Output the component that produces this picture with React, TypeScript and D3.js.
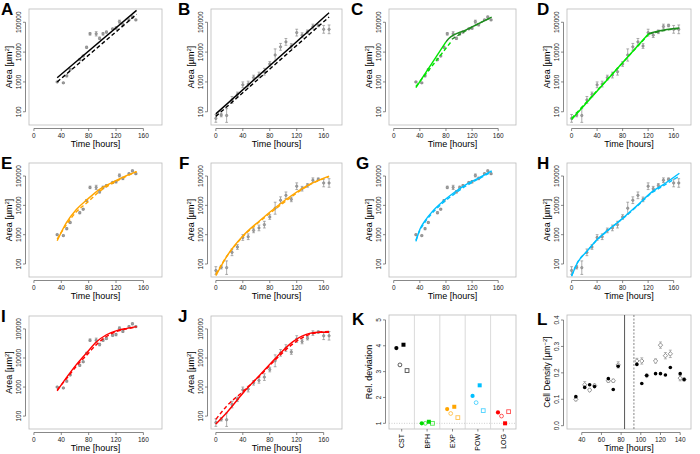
import * as d3 from "d3";

const FONT = "'Liberation Sans', Arial, Helvetica, sans-serif";

type Pt = [number, number];

// short series (panels A, C, E, G, I)
const shortTime = [34, 43, 48, 53, 67, 72, 77, 82, 91, 96, 101, 106, 115, 120, 125, 130, 139, 144, 149];
const shortArea = [1000, 930, 1600, 2600, 5600, 7400, 14500, 41000, 41000, 29000, 41000, 47000, 60000, 64000, 105000, 83000, 120000, 150000, 120000];
const shortErr = [0.05, 0.05, 0.08, 0.06, 0.08, 0.06, 0.08, 0.1, 0.18, 0.1, 0.1, 0.08, 0.06, 0.1, 0.12, 0.1, 0.06, 0.08, 0.06];

// long series (panels B, D, F, H, J)
const longTime = [0, 8, 16, 24, 32, 40, 48, 56, 64, 72, 80, 88, 96, 104, 112, 120, 128, 136, 144, 152, 160, 168];
const longArea = [60, 78, 75, 250, 380, 800, 850, 1400, 1700, 2200, 4000, 8000, 15000, 22000, 16000, 45000, 37000, 48000, 72000, 78000, 58000, 58000];
const longErr = [0.35, 0.15, 0.7, 0.3, 0.2, 0.25, 0.25, 0.2, 0.25, 0.3, 0.2, 0.6, 0.3, 0.3, 0.2, 0.3, 0.2, 0.15, 0.2, 0.1, 0.35, 0.4];

const timeTicks = [0, 40, 80, 120, 160];
const areaTicks = [100, 1000, 10000, 100000];

// fitted curves: [time, area]
const cstShortSolid: Pt[] = [[34, 1380], [150, 250000]];
const cstShortDash: Pt[] = [[34, 1000], [150, 185000]];
const cstLongSolid: Pt[] = [[0, 85], [168, 210000]];
const cstLongDash: Pt[] = [[0, 70], [168, 150000]];

const bphShortSolid1: Pt[] = [[34, 650], [80, 22000]];
const bphShortSolid2: Pt[] = [[80, 22000], [84, 28000], [110, 55000], [150, 150000]];
const bphShortDash1: Pt[] = [[34, 700], [89, 24000]];
const bphShortDash2: Pt[] = [[89, 27000], [115, 60000], [150, 145000]];
const bphLongSolid1: Pt[] = [[0, 55], [121, 42000]];
const bphLongSolid2: Pt[] = [[121, 42000], [145, 55000], [169, 64000]];
const bphLongDash1: Pt[] = [[0, 60], [121, 40000]];
const bphLongDash2: Pt[] = [[121, 40000], [145, 53000], [169, 62000]];

const expShortSolid: Pt[] = [[34, 620], [47.5, 2560], [62, 7200], [78, 16000], [96.5, 36000], [116, 63000], [136, 105000], [150, 143000]];
const expShortDash: Pt[] = [[34, 700], [48, 2300], [62, 6000], [78, 12500], [96, 30000], [116, 58000], [136, 100000], [150, 140000]];
const expLongSolid: Pt[] = [[0, 40], [16, 180], [40, 900], [65, 3000], [90, 9000], [114, 23000], [139, 52000], [168, 100000]];
const expLongDash: Pt[] = [[0, 45], [16, 180], [40, 850], [65, 2800], [90, 8000], [114, 21000], [139, 50000], [168, 95000]];

const powShortSolid: Pt[] = [[34, 590], [40, 1500], [48, 3000], [60, 6500], [75, 13500], [90, 25000], [110, 50000], [130, 85000], [150, 150000]];
const powShortDash: Pt[] = [[34, 650], [40, 1400], [48, 2700], [60, 5800], [75, 12000], [90, 22000], [110, 45000], [130, 80000], [150, 140000]];
const powLongSolid: Pt[] = [[0, 38], [9, 108], [24, 270], [40, 680], [58, 1500], [80, 3600], [103, 10000], [127, 30000], [142, 48000], [169, 124000]];
const powLongDash: Pt[] = [[0, 40], [9, 110], [24, 270], [40, 660], [58, 1450], [80, 3500], [103, 9500], [127, 28000], [142, 44000], [169, 100000]];

const logShortSolid: Pt[] = [[34, 740], [47.5, 2100], [62, 5900], [77, 15000], [91.6, 36000], [106, 63000], [121, 88000], [136, 105000], [150, 120000]];
const logShortDash: Pt[] = [[34, 800], [48, 2000], [62, 5200], [77, 12500], [92, 30000], [106, 55000], [121, 82000], [136, 100000], [150, 118000]];
const logLongSolid: Pt[] = [[0, 53], [16, 130], [40.7, 640], [65, 2550], [90, 10700], [114, 36000], [139, 70000], [155, 77000], [168, 77000]];
const logLongDash: Pt[] = [[0, 77], [16, 220], [40, 700], [65, 2400], [90, 9500], [114, 30000], [139, 65000], [155, 78000], [168, 82000]];

// panel K
const models = ["CST", "BPH", "EXP", "POW", "LOG"];
const modelColors = ["#000000", "#00dd00", "#ffa500", "#00bfff", "#ff0000"];
const devShortFit = [3.91, 1.0, 1.55, 2.06, 1.42];
const devShortPred = [3.26, 1.0, 1.38, 1.8, 1.28];
const devLongFit = [4.04, 1.06, 1.64, 2.47, 1.0];
const devLongPred = [3.04, 1.0, 1.22, 1.49, 1.45];
const devTicks = [1, 2, 3, 4, 5];

// panel L
const densTime = [34, 43, 48, 53, 67, 72, 77, 96, 101, 106, 115, 120, 125, 130, 140, 144];
const densBlack = [0.11, 0.145, 0.155, 0.148, 0.178, 0.137, 0.225, 0.232, 0.16, 0.19, 0.197, 0.197, 0.192, 0.22, 0.197, 0.175];
const densGray = [0.10, 0.155, 0.135, 0.152, 0.17, 0.17, 0.23, 0.245, 0.245, 0.19, 0.245, 0.305, 0.265, 0.272, 0.18, 0.175];
const densGrayErr = [0.006, 0.012, 0.006, 0.006, 0.006, 0.006, 0.012, 0.01, 0.012, 0.006, 0.008, 0.012, 0.012, 0.014, 0.01, 0.006];
const densTimeTicks = [40, 60, 80, 100, 120, 140];
const densTicks = [0, 0.1, 0.2, 0.3, 0.4];

const GREEN = "#00e600";
const DKGREEN = "#1e8c1e";
const ORANGE = "#ffa500";
const BLUE = "#00bfff";
const RED = "#ff0000";

const colX = [[29, 162], [211, 342], [389, 516], [567, 691]];
const rowY = [[9, 125], [163, 277], [316, 429]];

type Fit = { pts: Pt[]; color: string; dash?: boolean };

const AXIS = "#555";
const BOX = "#bbbbbb";

function Letter({ x, y, t }: { x: number; y: number; t: string }) {
  return (
    <text x={x} y={y} fontFamily={FONT} fontWeight="bold" fontSize={17}>
      {t}
    </text>
  );
}

function GrowthPanel({ col, row, letter, lx, times, areas, errs, fits }: {
  col: number; row: number; letter: string; lx: number;
  times: number[]; areas: number[]; errs: number[]; fits: Fit[];
}) {
  const [x0, x1] = colX[col];
  const [y0, y1] = rowY[row];
  const x = d3.scaleLinear().domain([-7.2, 187.2]).range([x0, x1]);
  const y = d3.scaleLog().domain([36, 278600]).range([y1, y0]);
  const line = d3.line<Pt>().x((d) => x(d[0])).y((d) => y(d[1])).curve(d3.curveMonotoneX);
  const clipId = `clip-${letter}`;
  const ax = y1 + 3.5;
  const ay = x0 - 3.5;
  return (
    <g fontFamily={FONT}>
      <Letter x={lx} y={y0 + 6} t={letter} />
      <clipPath id={clipId}>
        <rect x={x0} y={y0} width={x1 - x0} height={y1 - y0} />
      </clipPath>
      <rect x={x0} y={y0} width={x1 - x0} height={y1 - y0} fill="none" stroke={BOX} strokeWidth={0.8} />
      {/* x axis */}
      <line x1={x(0)} x2={x(160)} y1={ax} y2={ax} stroke={AXIS} strokeWidth={0.7} />
      {timeTicks.map((t) => (
        <g key={t}>
          <line x1={x(t)} x2={x(t)} y1={ax} y2={ax + 2.5} stroke={AXIS} strokeWidth={0.7} />
          <text x={x(t)} y={ax + 9.5} fontSize={6.5} textAnchor="middle" fill="#222">{t}</text>
        </g>
      ))}
      <text x={(x0 + x1) / 2} y={y1 + 21.5} fontSize={9} textAnchor="middle">Time [hours]</text>
      {/* y axis */}
      <line x1={ay} x2={ay} y1={y(100)} y2={y(100000)} stroke={AXIS} strokeWidth={0.7} />
      {areaTicks.map((v) => (
        <g key={v}>
          <line x1={ay} x2={ay - 2.5} y1={y(v)} y2={y(v)} stroke={AXIS} strokeWidth={0.7} />
          <text transform={`translate(${ay - 4.5},${y(v)}) rotate(-90)`} fontSize={6.5} textAnchor="middle" fill="#222">{v}</text>
        </g>
      ))}
      <text transform={`translate(${x0 - 17},${(y0 + y1) / 2}) rotate(-90)`} fontSize={9} textAnchor="middle">
        Area [µm<tspan dy={-3.5} fontSize={6}>2</tspan><tspan dy={3.5}>]</tspan>
      </text>
      {/* data */}
      <g clipPath={`url(#${clipId})`}>
        {times.map((t, i) => {
          const lo = areas[i] / (1 + errs[i]);
          const hi = areas[i] * (1 + errs[i]);
          return (
            <g key={i} stroke="#8a8a8a" strokeWidth={0.7}>
              <line x1={x(t)} x2={x(t)} y1={y(lo)} y2={y(hi)} />
              <line x1={x(t) - 1.4} x2={x(t) + 1.4} y1={y(lo)} y2={y(lo)} />
              <line x1={x(t) - 1.4} x2={x(t) + 1.4} y1={y(hi)} y2={y(hi)} />
              <circle cx={x(t)} cy={y(areas[i])} r={1.2} fill="#a0a0a0" stroke="#808080" strokeWidth={0.6} />
            </g>
          );
        })}
        {fits.map((f, i) => (
          <path key={i} d={line(f.pts) ?? ""} fill="none" stroke={f.color} strokeWidth={1.4}
            strokeDasharray={f.dash ? "4,2.5" : undefined} />
        ))}
      </g>
    </g>
  );
}

function DeviationPanel() {
  const [x0, x1] = colX[2];
  const [y0, y1] = [315, 429];
  const x = d3.scaleLinear().domain([0.5, 5.5]).range([x0, x1]);
  const y = d3.scaleLinear().domain([0.78, 5.19]).range([y1, y0]);
  const ay = x0 - 3.5;
  const offs = [-0.21, -0.07, 0.07, 0.21];
  return (
    <g fontFamily={FONT}>
      <Letter x={352} y={325} t="K" />
      <rect x={x0} y={y0} width={x1 - x0} height={y1 - y0} fill="none" stroke={BOX} strokeWidth={0.8} />
      {[1.5, 2.5, 3.5, 4.5].map((s) => (
        <line key={s} x1={x(s)} x2={x(s)} y1={y0} y2={y1} stroke="#d0d0d0" strokeWidth={0.8} />
      ))}
      <line x1={x0} x2={x1} y1={y(1)} y2={y(1)} stroke="#bbb" strokeWidth={0.7} strokeDasharray="1,1.5" />
      <line x1={ay} x2={ay} y1={y(1)} y2={y(5)} stroke={AXIS} strokeWidth={0.7} />
      {devTicks.map((v) => (
        <g key={v}>
          <line x1={ay} x2={ay - 2.5} y1={y(v)} y2={y(v)} stroke={AXIS} strokeWidth={0.7} />
          <text transform={`translate(${ay - 4.5},${y(v)}) rotate(-90)`} fontSize={6.5} textAnchor="middle" fill="#222">{v}</text>
        </g>
      ))}
      <text transform={`translate(${x0 - 17},${(y0 + y1) / 2}) rotate(-90)`} fontSize={9} textAnchor="middle">Rel. deviation</text>
      {models.map((m, i) => (
        <g key={m}>
          <line x1={x(i + 1)} x2={x(i + 1)} y1={y1 + 0} y2={y1 + 2.5} stroke={AXIS} strokeWidth={0.7} />
          <text transform={`translate(${x(i + 1) + 2.5},${y1 + 5}) rotate(-90)`} fontSize={7} textAnchor="end">{m}</text>
          <circle cx={x(i + 1 + offs[0])} cy={y(devShortFit[i])} r={2.1} fill={modelColors[i]} />
          <circle cx={x(i + 1 + offs[1])} cy={y(devShortPred[i])} r={1.9} fill="none" stroke={modelColors[i]} strokeOpacity={0.7} strokeWidth={0.9} />
          <rect x={x(i + 1 + offs[2]) - 2} y={y(devLongFit[i]) - 2} width={4} height={4} fill={modelColors[i]} />
          <rect x={x(i + 1 + offs[3]) - 1.9} y={y(devLongPred[i]) - 1.9} width={3.8} height={3.8} fill="none" stroke={modelColors[i]} strokeOpacity={0.7} strokeWidth={0.9} />
        </g>
      ))}
    </g>
  );
}

function DensityPanel() {
  const [x0, x1] = colX[3];
  const [y0, y1] = [315, 429];
  const x = d3.scaleLinear().domain([25, 151]).range([x0, x1]);
  const y = d3.scaleLinear().domain([-0.0125, 0.419]).range([y1, y0]);
  const ax = y1 + 3.5;
  const ay = x0 - 3.5;
  return (
    <g fontFamily={FONT}>
      <Letter x={537} y={325} t="L" />
      <rect x={x0} y={y0} width={x1 - x0} height={y1 - y0} fill="none" stroke={BOX} strokeWidth={0.8} />
      <line x1={x(83.5)} x2={x(83.5)} y1={y0} y2={y1} stroke="#444" strokeWidth={0.9} />
      <line x1={x(93)} x2={x(93)} y1={y0} y2={y1} stroke="#777" strokeWidth={0.9} strokeDasharray="2,1.5" />
      <line x1={x(40)} x2={x(140)} y1={ax} y2={ax} stroke={AXIS} strokeWidth={0.7} />
      {densTimeTicks.map((t) => (
        <g key={t}>
          <line x1={x(t)} x2={x(t)} y1={ax} y2={ax + 2.5} stroke={AXIS} strokeWidth={0.7} />
          <text x={x(t)} y={ax + 9.5} fontSize={6.5} textAnchor="middle" fill="#222">{t}</text>
        </g>
      ))}
      <text x={(x0 + x1) / 2} y={y1 + 21.5} fontSize={9} textAnchor="middle">Time [hours]</text>
      <line x1={ay} x2={ay} y1={y(0)} y2={y(0.4)} stroke={AXIS} strokeWidth={0.7} />
      {densTicks.map((v) => (
        <g key={v}>
          <line x1={ay} x2={ay - 2.5} y1={y(v)} y2={y(v)} stroke={AXIS} strokeWidth={0.7} />
          <text transform={`translate(${ay - 4.5},${y(v)}) rotate(-90)`} fontSize={6.5} textAnchor="middle" fill="#222">{v.toFixed(1)}</text>
        </g>
      ))}
      <text transform={`translate(${x0 - 17},${(y0 + y1) / 2}) rotate(-90)`} fontSize={8.5} textAnchor="middle">
        Cell Density [µm<tspan dy={-3.5} fontSize={6}>−2</tspan><tspan dy={3.5}>]</tspan>
      </text>
      {densTime.map((t, i) => (
        <g key={i}>
          <g stroke="#999" strokeWidth={0.7}>
            <line x1={x(t)} x2={x(t)} y1={y(densGray[i] - densGrayErr[i])} y2={y(densGray[i] + densGrayErr[i])} />
            <line x1={x(t) - 1.5} x2={x(t) + 1.5} y1={y(densGray[i] - densGrayErr[i])} y2={y(densGray[i] - densGrayErr[i])} />
            <line x1={x(t) - 1.5} x2={x(t) + 1.5} y1={y(densGray[i] + densGrayErr[i])} y2={y(densGray[i] + densGrayErr[i])} />
          </g>
          <path d={`M${x(t)},${y(densGray[i]) - 2.2}l2.2,2.2l-2.2,2.2l-2.2,-2.2z`} fill="#fff" stroke="#888" strokeWidth={0.9} />
          <circle cx={x(t)} cy={y(densBlack[i])} r={1.8} fill="#000" />
        </g>
      ))}
    </g>
  );
}

export default function App() {
  return (
    <svg width={700} height={454} style={{ display: "block", position: "absolute", left: 0, top: 0, background: "#fff" }}>
      <GrowthPanel col={0} row={0} letter="A" lx={1} times={shortTime} areas={shortArea} errs={shortErr}
        fits={[{ pts: cstShortSolid, color: "#000" }, { pts: cstShortDash, color: "#000", dash: true }]} />
      <GrowthPanel col={1} row={0} letter="B" lx={178} times={longTime} areas={longArea} errs={longErr}
        fits={[{ pts: cstLongSolid, color: "#000" }, { pts: cstLongDash, color: "#000", dash: true }]} />
      <GrowthPanel col={2} row={0} letter="C" lx={351} times={shortTime} areas={shortArea} errs={shortErr}
        fits={[
          { pts: bphShortSolid1, color: GREEN }, { pts: bphShortSolid2, color: DKGREEN },
          { pts: bphShortDash1, color: GREEN, dash: true }, { pts: bphShortDash2, color: DKGREEN, dash: true },
        ]} />
      <GrowthPanel col={3} row={0} letter="D" lx={537} times={longTime} areas={longArea} errs={longErr}
        fits={[
          { pts: bphLongSolid1, color: GREEN }, { pts: bphLongSolid2, color: DKGREEN },
          { pts: bphLongDash1, color: GREEN, dash: true }, { pts: bphLongDash2, color: DKGREEN, dash: true },
        ]} />
      <GrowthPanel col={0} row={1} letter="E" lx={1} times={shortTime} areas={shortArea} errs={shortErr}
        fits={[{ pts: expShortSolid, color: ORANGE }, { pts: expShortDash, color: ORANGE, dash: true }]} />
      <GrowthPanel col={1} row={1} letter="F" lx={179} times={longTime} areas={longArea} errs={longErr}
        fits={[{ pts: expLongSolid, color: ORANGE }, { pts: expLongDash, color: ORANGE, dash: true }]} />
      <GrowthPanel col={2} row={1} letter="G" lx={356} times={shortTime} areas={shortArea} errs={shortErr}
        fits={[{ pts: powShortSolid, color: BLUE }, { pts: powShortDash, color: BLUE, dash: true }]} />
      <GrowthPanel col={3} row={1} letter="H" lx={537} times={longTime} areas={longArea} errs={longErr}
        fits={[{ pts: powLongSolid, color: BLUE }, { pts: powLongDash, color: BLUE, dash: true }]} />
      <GrowthPanel col={0} row={2} letter="I" lx={1} times={shortTime} areas={shortArea} errs={shortErr}
        fits={[{ pts: logShortSolid, color: RED }, { pts: logShortDash, color: RED, dash: true }]} />
      <GrowthPanel col={1} row={2} letter="J" lx={178} times={longTime} areas={longArea} errs={longErr}
        fits={[{ pts: logLongSolid, color: RED }, { pts: logLongDash, color: RED, dash: true }]} />
      <DeviationPanel />
      <DensityPanel />
    </svg>
  );
}
